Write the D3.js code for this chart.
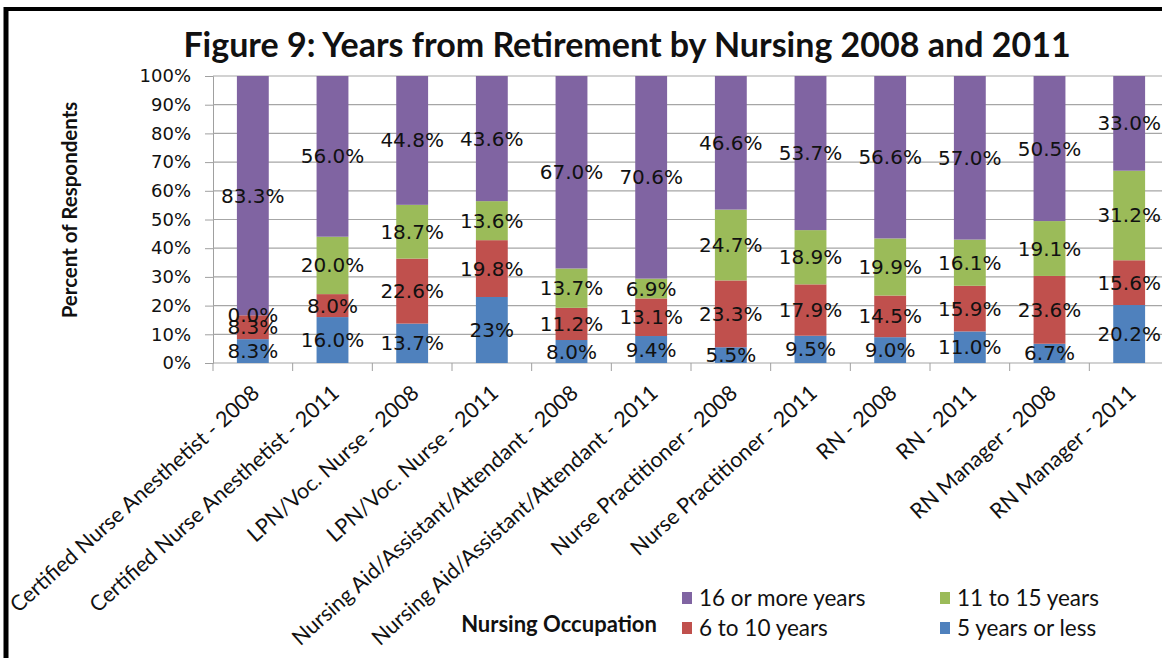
<!DOCTYPE html>
<html>
<head>
<meta charset="utf-8">
<script src="https://cdn.jsdelivr.net/npm/d3@7"></script>
<style>
  body { margin: 0; background: #fff; }
  svg { display: block; }
</style>
</head>
<body>
<script>
// data
var categories = [
  "Certified Nurse Anesthetist - 2008",
  "Certified Nurse Anesthetist - 2011",
  "LPN/Voc. Nurse - 2008",
  "LPN/Voc. Nurse - 2011",
  "Nursing Aid/Assistant/Attendant - 2008",
  "Nursing Aid/Assistant/Attendant - 2011",
  "Nurse Practitioner - 2008",
  "Nurse Practitioner - 2011",
  "RN - 2008",
  "RN - 2011",
  "RN Manager - 2008",
  "RN Manager - 2011"
];
var seriesNames = ["5 years or less", "6 to 10 years", "11 to 15 years", "16 or more years"];
var fiveOrLess      = [8.3, 16.0, 13.7, 23,   8.0, 9.4, 5.5, 9.5, 9.0, 11.0, 6.7, 20.2];
var sixToTen        = [8.3, 8.0, 22.6, 19.8, 11.2, 13.1, 23.3, 17.9, 14.5, 15.9, 23.6, 15.6];
var elevenToFifteen = [0.0, 20.0, 18.7, 13.6, 13.7, 6.9, 24.7, 18.9, 19.9, 16.1, 19.1, 31.2];
var sixteenPlus     = [83.3, 56.0, 44.8, 43.6, 67.0, 70.6, 46.6, 53.7, 56.6, 57.0, 50.5, 33.0];
var seriesColors = ["#4F81BD", "#C0504D", "#9BBB59", "#8064A2"];
// one label in the source is printed without a decimal
var labelOverrides = { "LPN/Voc. Nurse - 2011|5 years or less": "23%" };

var width = 1162, height = 658;
var margin = { left: 213, top: 76, bottom: 363 };

var rows = categories.map(function(c, i) {
  return {
    cat: c,
    "5 years or less": fiveOrLess[i],
    "6 to 10 years": sixToTen[i],
    "11 to 15 years": elevenToFifteen[i],
    "16 or more years": sixteenPlus[i]
  };
});

var stacked = d3.stack()
  .keys(seriesNames)
  .offset(d3.stackOffsetExpand)(rows);

var svg = d3.select("body").append("svg")
  .attr("width", width)
  .attr("height", height);

var x = d3.scaleBand()
  .domain(categories)
  .range([margin.left, margin.left + 956])
  .paddingInner(0.6)
  .paddingOuter(0.3);

var y = d3.scaleLinear()
  .domain([0, 1])
  .range([margin.bottom, margin.top]);

var color = d3.scaleOrdinal().domain(seriesNames).range(seriesColors);

// gridlines + y axis
var yAxis = svg.append("g")
  .attr("transform", "translate(" + margin.left + ",0)")
  .call(d3.axisLeft(y).ticks(10).tickFormat(d3.format(".0%")).tickSize(8).tickPadding(14));
yAxis.select(".domain").attr("stroke", "#a0a0a0");
yAxis.selectAll(".tick line").attr("stroke", "#a0a0a0");
yAxis.selectAll(".tick text")
  .attr("font-family", "DejaVu Sans")
  .attr("font-size", "18px")
  .attr("fill", "#111");

svg.append("g")
  .selectAll("line")
  .data(y.ticks(10))
  .join("line")
  .attr("x1", margin.left)
  .attr("x2", width)
  .attr("y1", function(d) { return y(d); })
  .attr("y2", function(d) { return y(d); })
  .attr("stroke", "#a6a6a6")
  .attr("stroke-width", 1.2);

// category boundary tick marks
var gap = (x.step() - x.bandwidth()) / 2;
var bounds = categories.map(function(c) { return x(c) - gap; });
bounds.push(x(categories[categories.length - 1]) + x.bandwidth() + gap);
svg.append("g")
  .selectAll("line")
  .data(bounds)
  .join("line")
  .attr("x1", function(d) { return d; })
  .attr("x2", function(d) { return d; })
  .attr("y1", margin.bottom)
  .attr("y2", margin.bottom + 8)
  .attr("stroke", "#a0a0a0");

// bars
var layers = svg.append("g")
  .selectAll("g")
  .data(stacked)
  .join("g")
  .attr("fill", function(d) { return color(d.key); });

layers.selectAll("rect")
  .data(function(d) { return d; })
  .join("rect")
  .attr("x", function(d) { return x(d.data.cat); })
  .attr("y", function(d) { return y(d[1]); })
  .attr("width", x.bandwidth())
  .attr("height", function(d) { return y(d[0]) - y(d[1]); });

// data labels
var fmt = d3.format(".1f");
stacked.forEach(function(layer) {
  svg.append("g")
    .selectAll("text")
    .data(layer)
    .join("text")
    .attr("x", function(d) { return x(d.data.cat) + x.bandwidth() / 2; })
    .attr("y", function(d) { return y((d[0] + d[1]) / 2) + 7; })
    .attr("text-anchor", "middle")
    .attr("font-family", "DejaVu Sans")
    .attr("font-size", "20px")
    .attr("fill", "#111")
    .text(function(d) {
      var k = d.data.cat + "|" + layer.key;
      return labelOverrides[k] || fmt(d.data[layer.key]) + "%";
    });
});

// x axis labels
svg.append("g")
  .selectAll("text")
  .data(categories)
  .join("text")
  .attr("transform", function(d) {
    return "translate(" + (x(d) + x.bandwidth() / 2 + 8) + "," + (margin.bottom + 32) + ") rotate(-42)";
  })
  .attr("text-anchor", "end")
  .attr("font-family", "Lato")
  .attr("font-size", "21.5px")
  .attr("fill", "#111")
  .text(function(d) { return d; });

// title
svg.append("text")
  .attr("x", 627)
  .attr("y", 57)
  .attr("text-anchor", "middle")
  .attr("font-family", "Lato")
  .attr("font-weight", "bold")
  .attr("font-size", "34px")
  .attr("fill", "#111")
  .text("Figure 9: Years from Retirement by Nursing 2008 and 2011");

// axis titles
svg.append("text")
  .attr("transform", "translate(77,210) rotate(-90)")
  .attr("text-anchor", "middle")
  .attr("font-family", "Lato")
  .attr("font-weight", "bold")
  .attr("font-size", "20.5px")
  .attr("fill", "#111")
  .text("Percent of Respondents");

svg.append("text")
  .attr("x", 559)
  .attr("y", 632)
  .attr("text-anchor", "middle")
  .attr("font-family", "Lato")
  .attr("font-weight", "bold")
  .attr("font-size", "22px")
  .attr("fill", "#111")
  .text("Nursing Occupation");

// legend
var legendOrder = ["16 or more years", "11 to 15 years", "6 to 10 years", "5 years or less"];
var legend = svg.append("g")
  .selectAll("g")
  .data(legendOrder)
  .join("g")
  .attr("transform", function(d, i) {
    return "translate(" + (682 + (i % 2) * 258) + "," + (598 + Math.floor(i / 2) * 30) + ")";
  });
legend.append("rect")
  .attr("x", 0)
  .attr("y", -6)
  .attr("width", 10)
  .attr("height", 12)
  .attr("fill", function(d) { return color(d); });
legend.append("text")
  .attr("x", 17)
  .attr("y", 8)
  .attr("font-family", "Lato")
  .attr("font-size", "22.5px")
  .attr("fill", "#111")
  .text(function(d) { return d; });

// outer frame (cropped at right and bottom in the source)
svg.append("line").attr("x1", 6).attr("x2", 6).attr("y1", 7).attr("y2", height)
  .attr("stroke", "#000").attr("stroke-width", 5);
svg.append("line").attr("x1", 4).attr("x2", width).attr("y1", 9).attr("y2", 9)
  .attr("stroke", "#000").attr("stroke-width", 4);
</script>
</body>
</html>
